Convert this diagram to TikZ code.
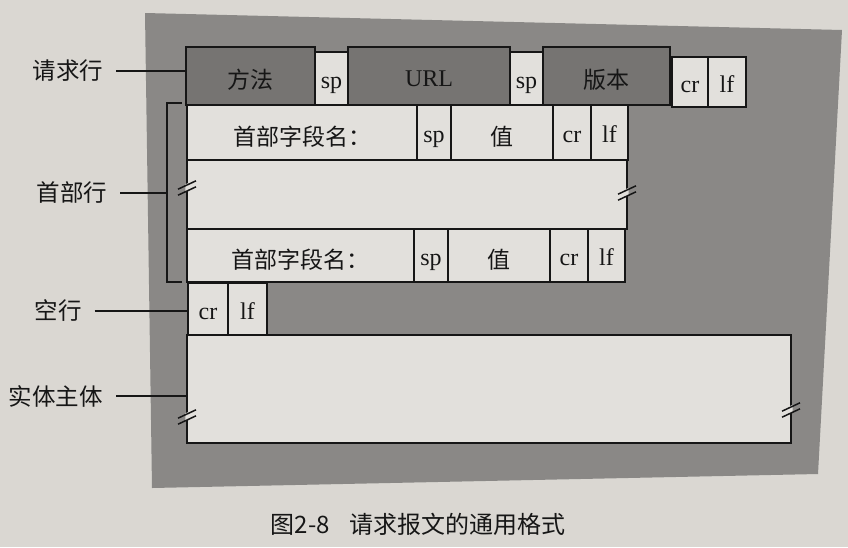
\documentclass[tikz,border=0pt]{standalone}
\usepackage{fontspec}
\setmainfont{Liberation Serif}
\newfontfamily\cjk{Noto Sans CJK SC}
\definecolor{paper}{HTML}{DAD7D2}
\definecolor{panelgray}{HTML}{8A8886}
\definecolor{darkcell}{HTML}{767472}
\definecolor{lightcell}{HTML}{E2E0DC}
\definecolor{ink}{HTML}{161616}
\tikzset{
  cell/.style={draw=ink, line width=1.7pt, fill=lightcell, anchor=north west,
    inner sep=0pt, outer sep=0pt, text=ink, font=\fontsize{24}{24}\selectfont,
    text height=21pt, text depth=1pt},
  dcell/.style={cell, fill=darkcell},
  hz/.style={font=\cjk\fontsize{23}{23}\selectfont, text height=25pt, text depth=0pt},
  lbl/.style={inner sep=0pt, text=ink, font=\cjk\fontsize{23.5}{23.5}\selectfont},
  lead/.style={draw=ink, line width=1.5pt},
  brk/.pic={
    \fill[lightcell] (-1.7,-3.6) -- (1.7,-5.2) -- (1.7,2.2) -- (-1.7,3.9) -- cycle;
    \draw[ink, line width=1.5pt] (-9,1.2) -- (9,-7.2);
    \draw[ink, line width=1.5pt] (-9,7.2) -- (9,-1.2);
  }
}
\begin{document}
\begin{tikzpicture}[x=1pt, y=-1pt]
\useasboundingbox (0,0) rectangle (848,547);
\fill[paper] (0,0) rectangle (848,547);
% grey panel behind the message
\fill[panelgray] (145,13) -- (842,30) -- (818,474) -- (152,488) -- cycle;

% request line
\node[dcell, hz, minimum width=129, minimum height=58] (method) at (186,47) {方法};
\node[dcell, minimum width=162, minimum height=58] (url) at (348,47) {URL};
\node[dcell, hz, minimum width=127, minimum height=58] (version) at (543,47) {版本};
\node[cell, minimum width=33, minimum height=53] (sp1) at (315,52) {sp};
\node[cell, minimum width=33, minimum height=53] (sp2) at (510,52) {sp};
\node[cell, minimum width=36, minimum height=50] (cr0) at (672,57) {cr};
\node[cell, minimum width=38, minimum height=50] (lf0) at (708,57) {lf};

% first header line
\node[cell, hz, minimum width=230, minimum height=55] (hname1) at (187,105) {首部字段名：};
\node[cell, minimum width=34, minimum height=55] (hsp1) at (417,105) {sp};
\node[cell, hz, minimum width=102, minimum height=55] (hval1) at (451,105) {值};
\node[cell, minimum width=38, minimum height=55] (hcr1) at (553,105) {cr};
\node[cell, minimum width=37, minimum height=55] (hlf1) at (591,105) {lf};

% omitted header lines
\node[cell, minimum width=440, minimum height=69] (mid) at (187,160) {};

% last header line
\node[cell, hz, minimum width=227, minimum height=53] (hname2) at (187,229) {首部字段名：};
\node[cell, minimum width=34, minimum height=53] (hsp2) at (414,229) {sp};
\node[cell, hz, minimum width=102, minimum height=53] (hval2) at (448,229) {值};
\node[cell, minimum width=38, minimum height=53] (hcr2) at (550,229) {cr};
\node[cell, minimum width=37, minimum height=53] (hlf2) at (588,229) {lf};

% blank line
\node[cell, minimum width=40, minimum height=52] (bcr) at (188,283) {cr};
\node[cell, minimum width=39, minimum height=52] (blf) at (228,283) {lf};

% entity body
\node[cell, minimum width=604, minimum height=108] (body) at (187,335) {};

% break marks
\pic at ([yshift=6.5pt]mid.west) {brk};
\pic at ([yshift=1.5pt]mid.east) {brk};
\pic at ([yshift=-28pt]body.west) {brk};
\pic at ([yshift=-21pt]body.east) {brk};

% bracket around the header lines
\coordinate (btop) at (167,103);
\coordinate (bbot) at (167,282);
\coordinate (btopend) at (182,103);
\coordinate (bbotend) at (182,282);
\draw[lead] (btopend) -- (btop) -- (bbot) -- (bbotend);

% side labels
\node[lbl] (lreq) at (68,71) {请求行};
\node[lbl] (lhead) at (72,193) {首部行};
\node[lbl] (lblank) at (58,311) {空行};
\node[lbl] (lbody) at (56,396) {实体主体};

\draw[lead] ([xshift=13pt]lreq.east) -- (lreq.east -| method.west);
\draw[lead] ([xshift=13pt]lhead.east) -- (lhead.east -| btop);
\draw[lead] ([xshift=13pt]lblank.east) -- (lblank.east -| bcr.west);
\draw[lead] ([xshift=13pt]lbody.east) -- (lbody.east -| body.west);

% caption
\node[lbl, font=\cjk\fontsize{24}{24}\selectfont] (caption) at (418,524) {图2-8\hspace{0.8em}请求报文的通用格式};
\end{tikzpicture}
\end{document}
